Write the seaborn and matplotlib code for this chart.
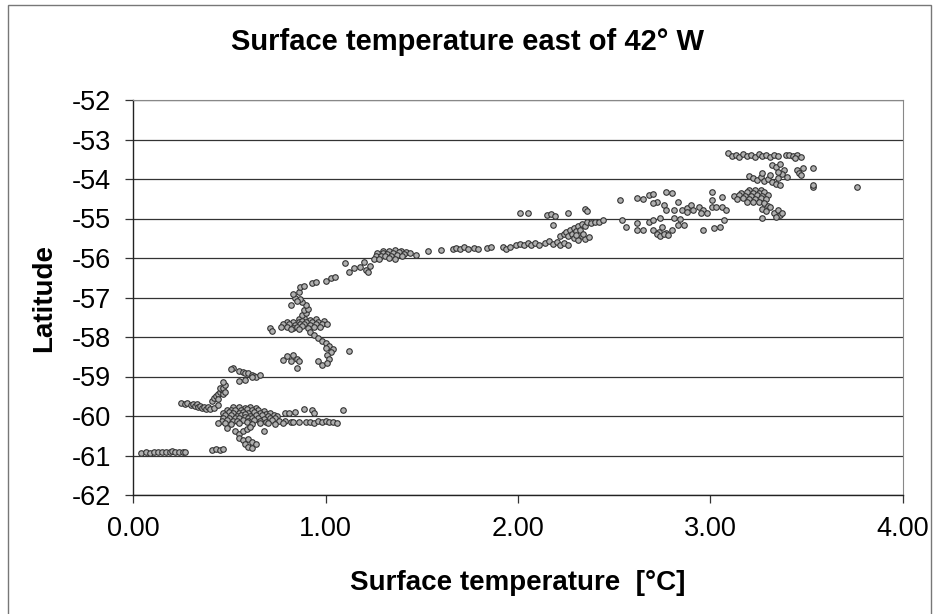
import numpy as np
import pandas as pd
import matplotlib
matplotlib.use("Agg")
import matplotlib.pyplot as plt
import seaborn as sns
from matplotlib.patches import Rectangle

# ---------------- data ----------------
# bottom line near -61
a_x = [0.04, 0.07, 0.09, 0.11, 0.13, 0.15, 0.17, 0.19, 0.20, 0.22, 0.24, 0.26, 0.27, 0.41, 0.43, 0.45, 0.47]
a_y = [-60.93, -60.92, -60.93, -60.91, -60.92, -60.90, -60.91, -60.92, -60.89, -60.90, -60.92, -60.90, -60.91, -60.86, -60.84, -60.85, -60.83]

# left arm near -59.7
b_x = [0.25, 0.27, 0.28, 0.30, 0.31, 0.32, 0.33, 0.34, 0.35, 0.36, 0.37, 0.38, 0.39, 0.40, 0.42, 0.44]
b_y = [-59.68, -59.70, -59.66, -59.72, -59.69, -59.75, -59.70, -59.78, -59.74, -59.80, -59.76, -59.82, -59.78, -59.83, -59.80, -59.72]

# rising points 0.40-0.49
c_x = [0.41, 0.42, 0.43, 0.44, 0.45, 0.46, 0.45, 0.47, 0.48, 0.44, 0.47, 0.47, 0.48]
c_y = [-59.62, -59.55, -59.50, -59.45, -59.40, -59.35, -59.30, -59.28, -59.22, -59.58, -59.45, -59.14, -59.38]

# points near -58.9
d_x = [0.52, 0.51, 0.55, 0.57, 0.58, 0.60, 0.62, 0.63, 0.64, 0.66, 0.62, 0.55, 0.58]
d_y = [-58.78, -58.82, -58.85, -58.88, -58.92, -58.90, -58.95, -58.98, -59.00, -58.96, -59.02, -59.12, -59.08]

# big blob near (0.6, -60)
e_x = [0.52, 0.55, 0.58, 0.61, 0.64,
       0.49, 0.51, 0.53, 0.56, 0.59, 0.62, 0.65, 0.68,
       0.47, 0.50, 0.52, 0.55, 0.57, 0.60, 0.63, 0.66, 0.69, 0.71,
       0.48, 0.51, 0.54, 0.56, 0.58, 0.61, 0.64, 0.67, 0.70, 0.73, 0.75,
       0.47, 0.50, 0.53, 0.55, 0.58, 0.60, 0.62, 0.65, 0.68, 0.71, 0.74,
       0.46, 0.49, 0.52, 0.54, 0.57, 0.60, 0.63, 0.66, 0.69, 0.72, 0.76, 0.79, 0.82,
       0.44, 0.48, 0.51, 0.55, 0.59, 0.62, 0.66, 0.70, 0.74, 0.78, 0.83, 0.86]
e_y = [-59.78, -59.76, -59.79, -59.77, -59.80,
       -59.85, -59.84, -59.86, -59.85, -59.83, -59.86, -59.84, -59.87,
       -59.92, -59.91, -59.93, -59.92, -59.90, -59.93, -59.91, -59.92, -59.94, -59.92,
       -59.98, -59.97, -59.99, -59.98, -59.96, -59.99, -59.97, -59.98, -60.00, -59.97, -59.99,
       -60.05, -60.04, -60.06, -60.05, -60.03, -60.06, -60.04, -60.05, -60.07, -60.04, -60.06,
       -60.12, -60.11, -60.13, -60.12, -60.10, -60.13, -60.11, -60.12, -60.14, -60.11, -60.13, -60.12, -60.14,
       -60.18, -60.17, -60.19, -60.18, -60.16, -60.19, -60.17, -60.18, -60.20, -60.17, -60.16, -60.15]

# right of the blob
f_x = [0.79, 0.81, 0.84, 0.89, 0.93, 0.94, 1.09, 0.90, 0.92, 0.94, 0.96, 0.98, 1.00, 1.02, 1.04, 1.06]
f_y = [-59.93, -59.92, -59.90, -59.82, -59.85, -59.92, -59.85, -60.15, -60.14, -60.17, -60.13, -60.15, -60.12, -60.16, -60.14, -60.18]

# tail below the blob
g_x = [0.49, 0.53, 0.55, 0.57, 0.59, 0.61, 0.55, 0.57, 0.60, 0.62, 0.58, 0.60, 0.62, 0.64, 0.68]
g_y = [-60.30, -60.38, -60.45, -60.38, -60.32, -60.28, -60.55, -60.62, -60.58, -60.65, -60.72, -60.78, -60.82, -60.70, -60.38]

# cluster near (0.9, -57.7)
h_x = [0.71, 0.72,
       0.86, 0.89, 0.92, 0.95,
       0.80, 0.83, 0.86, 0.88, 0.90, 0.93, 0.96, 0.99,
       0.78, 0.81, 0.84, 0.87, 0.89, 0.92, 0.95, 0.98, 1.01,
       0.77, 0.80, 0.83, 0.85, 0.88, 0.91, 0.94, 0.97,
       0.82, 0.86,
       0.88, 0.90, 0.89, 0.91, 0.90, 0.88, 0.87,
       0.82, 0.84, 0.83, 0.86, 0.85,
       0.92, 0.94, 0.96, 0.98, 1.00, 1.02, 1.04, 1.00, 1.03, 1.12, 1.01, 1.02,
       0.78, 0.80, 0.83, 0.85, 0.86, 0.82, 0.85,
       0.96, 0.98, 1.01]
h_y = [-57.78, -57.85,
       -57.55, -57.53, -57.56, -57.54,
       -57.62, -57.61, -57.63, -57.60, -57.62, -57.61, -57.63, -57.60,
       -57.68, -57.67, -57.69, -57.68, -57.66, -57.69, -57.67, -57.68, -57.66,
       -57.75, -57.74, -57.76, -57.75, -57.73, -57.76, -57.74, -57.75,
       -57.80, -57.81,
       -57.45, -57.40, -57.32, -57.28, -57.20, -57.12, -57.05,
       -57.18, -57.00, -56.92, -56.85, -57.10,
       -57.88, -57.95, -58.02, -58.10, -58.15, -58.22, -58.30, -58.28, -58.38, -58.35, -58.45, -58.55,
       -58.58, -58.48, -58.45, -58.55, -58.62, -58.62, -58.78,
       -58.62, -58.70, -58.65]

# rising run 0.87-1.25
i_x = [0.87, 0.89, 0.93, 0.95, 1.00, 1.03, 1.05, 1.10, 1.12, 1.15, 1.18, 1.20, 1.21, 1.22, 1.23]
i_y = [-56.73, -56.70, -56.63, -56.60, -56.58, -56.50, -56.47, -56.13, -56.35, -56.26, -56.22, -56.10, -56.30, -56.35, -56.20]

# cluster near (1.35, -55.9) and run to 1.8
j_x = [1.30, 1.33, 1.36, 1.39, 1.42,
       1.27, 1.30, 1.32, 1.35, 1.38, 1.41, 1.44,
       1.26, 1.29, 1.31, 1.34, 1.37, 1.40,
       1.25, 1.28, 1.33, 1.36,
       1.47, 1.53, 1.60, 1.66, 1.68, 1.70, 1.72, 1.74, 1.77, 1.79]
j_y = [-55.82, -55.83, -55.81, -55.82, -55.84,
       -55.88, -55.87, -55.89, -55.88, -55.86, -55.89, -55.87,
       -55.95, -55.94, -55.96, -55.95, -55.93, -55.96,
       -56.02, -56.03, -56.01, -56.02,
       -55.92, -55.82, -55.80, -55.76, -55.74, -55.78, -55.72, -55.76, -55.74, -55.77]

# run 1.84-2.27
k_x = [1.84, 1.86, 1.92, 1.94, 1.96, 1.99, 2.01, 2.03, 2.05, 2.07, 2.09, 2.11, 2.14, 2.16, 2.18, 2.20, 2.22, 2.24, 2.26]
k_y = [-55.74, -55.72, -55.73, -55.76, -55.71, -55.68, -55.64, -55.66, -55.62, -55.67, -55.63, -55.66, -55.62, -55.58, -55.65, -55.60, -55.66, -55.62, -55.68]

# rising cluster 2.22-2.44 and points above
l_x = [2.22, 2.24, 2.25, 2.27, 2.26, 2.28, 2.29, 2.30, 2.31, 2.32, 2.33, 2.35, 2.36, 2.38, 2.40, 2.42, 2.44,
       2.29, 2.31, 2.33, 2.35, 2.37, 2.30, 2.34,
       2.01, 2.05, 2.15, 2.17, 2.19, 2.26, 2.35, 2.18, 2.36]
l_y = [-55.45, -55.40, -55.35, -55.30, -55.45, -55.38, -55.25, -55.32, -55.20, -55.28, -55.15, -55.18, -55.10, -55.12, -55.08, -55.10, -55.05,
       -55.50, -55.55, -55.45, -55.52, -55.48, -55.42, -55.38,
       -54.87, -54.87, -54.92, -54.88, -54.93, -54.85, -54.75, -55.17, -54.82]

# scatter 2.53-3.08
m_x = [2.53, 2.62, 2.65, 2.68, 2.70, 2.72, 2.77, 2.80, 2.83, 2.70,
       2.76, 2.77, 2.81, 2.85, 2.88, 2.90, 2.91, 2.94, 2.96, 2.98, 2.95, 2.88,
       3.01, 3.06, 3.01, 3.01, 3.03, 3.06, 3.08,
       3.07, 3.05, 3.02, 2.96,
       2.54, 2.56, 2.62, 2.62, 2.65, 2.68, 2.70, 2.70, 2.73, 2.74, 2.75, 2.77, 2.80, 2.81, 2.83, 2.84, 2.86,
       2.72, 2.74, 2.76, 2.78]
m_y = [-54.53, -54.48, -54.50, -54.40, -54.37, -54.58, -54.33, -54.36, -54.58, -54.61,
       -54.66, -54.78, -54.78, -54.79, -54.73, -54.66, -54.79, -54.71, -54.79, -54.86, -54.86, -54.84,
       -54.33, -54.45, -54.53, -54.71, -54.71, -54.71, -54.79,
       -55.04, -55.22, -55.25, -55.29,
       -55.04, -55.21, -55.12, -55.29, -55.29, -55.09, -55.29, -55.04, -55.34, -54.99, -55.21, -55.37, -55.29, -54.99, -55.16, -55.02, -55.16,
       -55.40, -55.44, -55.38, -55.42]

# top-right group 3.1-3.8
n_x = [3.09, 3.11, 3.13, 3.15, 3.17, 3.19, 3.21, 3.23, 3.25, 3.27, 3.29, 3.31, 3.33, 3.35,
       3.39, 3.41, 3.43, 3.45, 3.47, 3.44,
       3.32, 3.34, 3.36, 3.38, 3.37, 3.40, 3.35, 3.45, 3.46, 3.48, 3.47, 3.53, 3.53, 3.53, 3.76,
       3.20, 3.22, 3.24, 3.26, 3.28, 3.30, 3.32, 3.34, 3.36, 3.27, 3.31, 3.35,
       3.20, 3.23, 3.26,
       3.16, 3.19, 3.22, 3.25, 3.28,
       3.12, 3.15, 3.18, 3.21, 3.24, 3.27, 3.30,
       3.14, 3.17, 3.20, 3.23, 3.26, 3.29,
       3.19, 3.22, 3.25,
       3.28, 3.30, 3.27, 3.29, 3.31, 3.33, 3.35, 3.36, 3.34, 3.37, 3.27]
n_y = [-53.35, -53.42, -53.38, -53.45, -53.36, -53.41, -53.38, -53.44, -53.37, -53.42, -53.39, -53.45, -53.38, -53.43,
       -53.40, -53.38, -53.42, -53.40, -53.44, -53.46,
       -53.65, -53.70, -53.62, -53.78, -53.88, -53.95, -53.82, -53.78, -53.84, -53.72, -53.90, -53.72, -54.20, -54.15, -54.20,
       -53.92, -53.98, -54.02, -53.95, -54.05, -54.00, -54.08, -54.12, -54.15, -53.85, -53.90, -53.98,
       -54.28, -54.27, -54.29,
       -54.35, -54.34, -54.36, -54.35, -54.33,
       -54.42, -54.41, -54.43, -54.42, -54.40, -54.43, -54.41,
       -54.50, -54.49, -54.51, -54.50, -54.48, -54.51,
       -54.58, -54.57, -54.59,
       -54.62, -54.68, -54.75, -54.80, -54.72, -54.85, -54.78, -54.90, -54.95, -54.85, -54.98]

temp_c = a_x + b_x + c_x + d_x + e_x + f_x + g_x + h_x + i_x + j_x + k_x + l_x + m_x + n_x
lat_deg = a_y + b_y + c_y + d_y + e_y + f_y + g_y + h_y + i_y + j_y + k_y + l_y + m_y + n_y

x_ticks = [0, 1, 2, 3, 4]
x_tick_labels = ["0.00", "1.00", "2.00", "3.00", "4.00"]
y_ticks = [-62, -61, -60, -59, -58, -57, -56, -55, -54, -53, -52]
y_tick_labels = ["-62", "-61", "-60", "-59", "-58", "-57", "-56", "-55", "-54", "-53", "-52"]

title_text = "Surface temperature east of 42° W"
x_label = "Surface temperature  [°C]"
y_label = "Latitude"

# ---------------- plot ----------------
sns.set_style("white")
plt.rcParams["font.family"] = ["Liberation Sans", "DejaVu Sans"]
plt.rcParams["text.color"] = "black"
plt.rcParams["axes.labelcolor"] = "black"

df = pd.DataFrame({"temp": temp_c, "lat": lat_deg})

W, H = 935, 614
fig = plt.figure(figsize=(W / 100, H / 100), dpi=100)
fig.patch.set_facecolor("white")

ax = fig.add_axes([133 / W, 1 - 495 / H, (903 - 133) / W, (495 - 100) / H])

for yv in y_ticks:
    ax.axhline(yv, color="#333333", lw=0.9, zorder=1)

sns.scatterplot(data=df, x="temp", y="lat", ax=ax, s=16, marker="o",
                color="#b0b0b0", edgecolor="#333333", linewidth=0.8, zorder=3,
                legend=False)

ax.set_xlim(0, 4)
ax.set_ylim(-62, -52)
ax.set_xticks(x_ticks)
ax.set_xticklabels(x_tick_labels)
ax.set_yticks(y_ticks)
ax.set_yticklabels(y_tick_labels)
ax.tick_params(axis="both", direction="out", length=6, width=0.9, color="#333333",
               labelsize=19.5, labelcolor="black")
ax.tick_params(axis="y", pad=10)
ax.tick_params(axis="x", pad=9)
ax.tick_params(left=True, bottom=True)
ax.set_xlabel(x_label, fontsize=20, fontweight="bold", labelpad=20, color="black")
ax.set_ylabel(y_label, fontsize=20, fontweight="bold", labelpad=10, color="black")

for side in ["left", "bottom"]:
    ax.spines[side].set_color("#222222")
    ax.spines[side].set_linewidth(1.0)
for side in ["top", "right"]:
    ax.spines[side].set_color("#888888")
    ax.spines[side].set_linewidth(0.8)

fig.text(0.5, 1 - 42 / H, title_text, ha="center", va="center",
         fontsize=21, fontweight="bold", color="black")

fig.patches.append(Rectangle((8 / W, -0.05), (931 - 8) / W, 1.05 - 5 / H,
                             transform=fig.transFigure, fill=False,
                             edgecolor="#777777", linewidth=1.0))

fig.savefig("out.png", dpi=100)
